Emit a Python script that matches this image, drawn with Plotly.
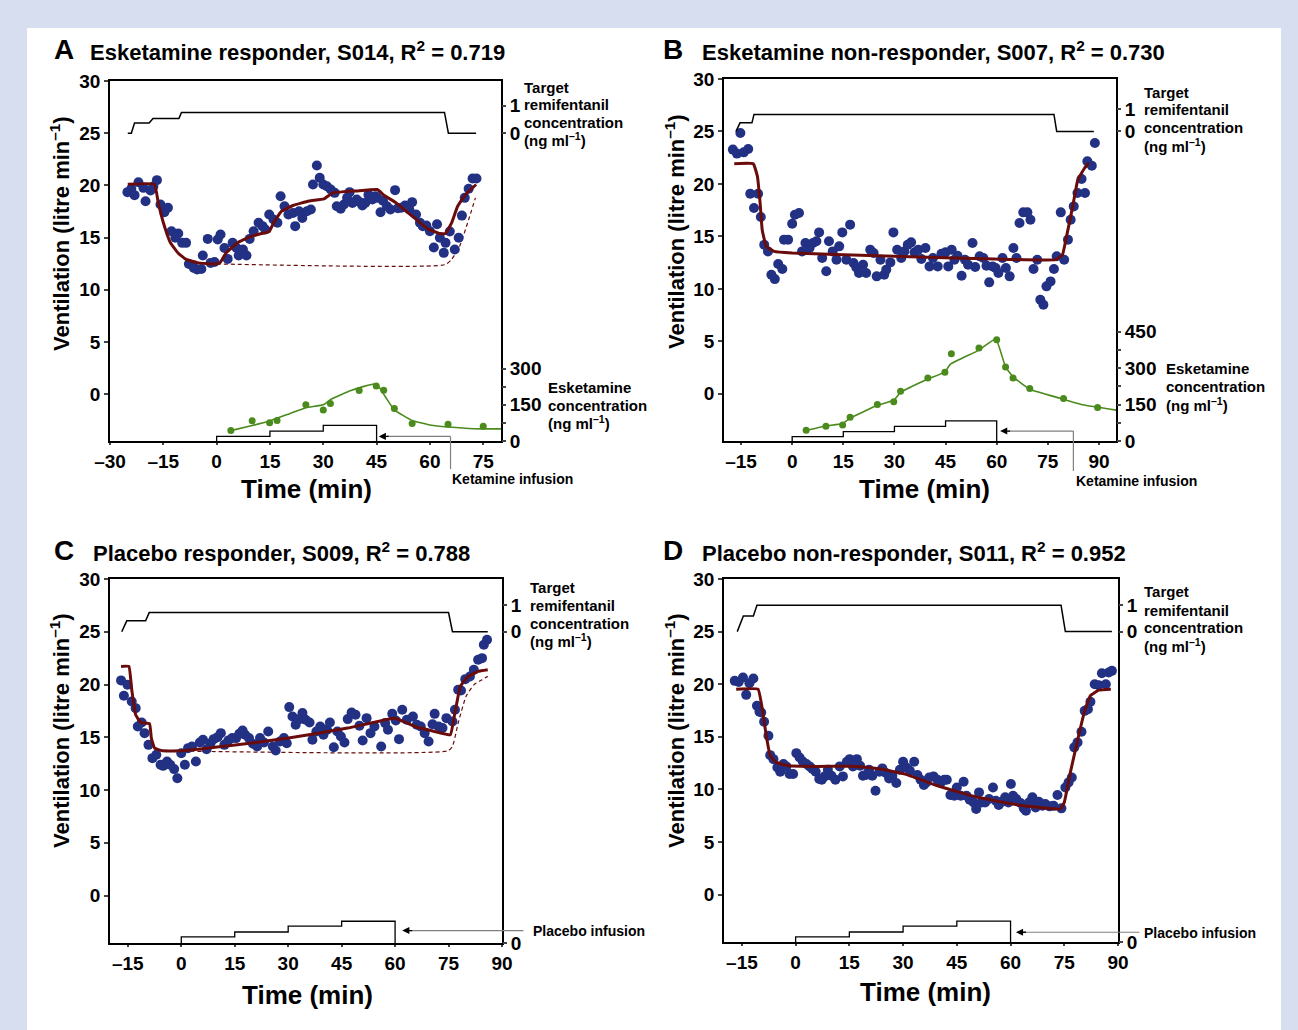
import plotly.graph_objects as go

W, H = 1298, 1030
FONT = "Liberation Sans, Arial, sans-serif"
NAVY = "#233184"
MAROON = "#6a0c0c"
GREEN = "#4b8a1c"
GREY = "#808080"

# ---------------- Panel A : Esketamine responder, S014 ----------------
a_vent = [(-25.1,19.35),(-24.0,19.67),(-23.1,19.06),(-22.0,20.3),(-20.6,19.76),(-20.0,18.48),(-18.6,19.5),(-17.8,19.9),
          (-16.8,20.5),(-15.8,18.16),(-14.7,17.43),(-13.7,17.85),(-12.7,15.6),(-11.6,14.97),(-10.8,15.38),(-9.7,14.49),
          (-8.6,14.49),(-7.8,12.47),(-6.4,12.09),(-5.5,11.93),(-4.3,11.99),(-3.9,13.27),(-2.5,14.87),(-1.7,12.57),
          (-0.6,12.66),(0.3,14.81),(1.1,15.29),(2.2,14.0),(3.1,12.95),(4.5,14.49),(5.6,14.0),(6.2,13.27),(7.4,13.85),
          (8.4,13.27),(9.3,14.87),(10.4,15.6),(11.8,16.41),(12.9,16.09),(13.7,15.77),(14.8,17.2),(16.0,16.73),(17.1,16.41),
          (18.0,18.96),(19.1,18.0),(20.2,17.2),(21.5,17.36),(22.1,16.09),(23.2,17.52),(24.1,16.88),(25.4,17.52),(26.5,17.68),
          (27.1,20.08),(28.2,21.9),(29.0,20.72),(30.0,20.08),(31.0,19.92),(32.1,19.6),(33.2,19.28),(33.8,18.0),(34.9,17.75),
          (35.8,18.16),(36.7,18.8),(37.4,19.35),(38.2,18.32),(39.4,18.64),(40.3,18.39),(41.0,18.07),(41.8,18.32),(42.7,19.09),
          (43.8,18.64),(44.7,18.96),(45.2,18.8),(46.1,17.43),(46.8,18.52),(47.9,18.0),(48.9,17.68),(50.2,19.54),(51.0,17.81),
          (52.0,17.85),(53.0,18.07),(54.2,17.68),(55.0,18.39),(56.1,17.2),(57.2,16.41),(58.0,16.09),(59.0,16.15),(60.0,15.6),
          (61.1,14.04),(62.0,16.28),(62.8,14.97),(63.9,13.53),(64.4,14.49),(65.6,15.57),(67.0,13.85),(68.1,14.97),(69.0,17.1),
          (69.8,18.8),(70.9,19.67),(72.0,20.66),(73.1,20.66)]
a_fit = [(-25,20.1),(-17.5,20.1),(-16.4,18.3),(-14.7,16.1),(-13.0,14.5),(-10.8,13.5),(-8.6,12.9),(-5.2,12.57),(-0.8,12.47),
         (0.9,12.57),(2.6,13.5),(5.9,14.5),(9.3,15.06),(12.6,15.38),(14.8,15.57),(16.0,16.4),(18.2,17.5),(21.5,18.07),
         (26.0,18.5),(30.2,18.7),(32.7,19.28),(39.4,19.47),(45.2,19.6),(47.2,19.03),(50.5,18.32),(55.0,17.05),(59.4,15.83),
         (62.8,15.38),(64.4,15.38),(66.1,16.4),(67.8,18.0),(70.0,19.1),(73.0,20.08)]
a_base = [(0.0,12.47),(64.3,12.4),(66.1,12.9),(68.4,14.2),(70.6,16.4),(72.8,18.8)]
a_remi_t = [-25.0,-24.0,-23.1,-19.0,-17.9,-10.6,-9.9,64.1,65.2,73.0]
a_remi_c = [0,0,0.37,0.37,0.54,0.54,0.76,0.76,0,0]
a_ket = [(4.0,43),(10.0,84),(14.9,76),(17.0,85),(25.1,150),(30.0,128),(32.0,155),(40.1,209),(44.9,228),(47.0,210),
         (50.0,135),(55.0,72),(65.1,69),(75.0,61)]
a_ket_fit = [(4,43),(9.7,63),(15.1,84),(20.5,113),(25.1,138),(30,150),(32,171),(37.8,209),(44.9,237),(47.5,182),
             (50,129),(55,85),(60.4,65),(65.1,58),(72.3,51),(80,50)]
a_inf_t = [0,0,15,15,30,30,45,45]
a_inf_r = [0,19,19,41,41,65,65,0]

# ---------------- Panel B : Esketamine non-responder, S007 ----------------
b_vent = [(-17.4,23.27),(-16.2,22.89),(-15.2,24.86),(-14.2,23.01),(-12.9,23.33),(-12.3,19.07),(-11.2,17.71),(-10.0,19.07),
          (-9.2,16.85),(-8.2,14.21),(-7.1,13.57),(-6.1,11.35),(-5.1,10.93),(-4.1,12.37),(-2.9,11.89),(-2.4,14.69),(-1.2,14.69),
          (0.0,16.21),(0.8,17.07),(2.0,17.23),(2.9,13.57),(3.9,14.37),(5.1,13.89),(6.1,14.37),(7.1,14.53),(7.9,15.38),
          (8.8,12.94),(10.0,11.67),(10.8,14.53),(11.9,13.57),(13.0,12.78),(13.8,14.05),(14.7,15.38),(15.9,12.78),(17.0,16.12),
          (18.0,12.46),(18.8,12.05),(19.6,11.51),(20.8,12.3),(21.7,11.51),(22.9,13.73),(23.9,13.41),(24.8,11.19),(25.9,12.78),
          (27.0,11.35),(27.6,11.83),(28.8,12.52),(29.7,15.38),(30.8,13.73),(32.0,12.94),(32.9,13.57),(33.9,14.21),(34.9,14.43),
          (35.9,13.48),(37.0,13.73),(37.9,12.84),(39.1,13.89),(40.3,12.14),(41.3,12.94),(42.7,12.14),(43.8,13.35),(45.0,13.48),
          (45.8,12.14),(46.8,13.73),(47.6,12.78),(48.5,13.16),(49.7,11.25),(50.7,12.78),(51.6,12.3),(52.9,14.37),(53.7,12.08),
          (55.0,13.1),(56.1,12.94),(57.0,12.21),(57.8,10.62),(58.8,12.14),(59.7,11.98),(60.5,11.51),(61.7,12.94),(62.7,11.98),
          (63.8,11.19),(64.9,13.89),(65.8,12.94),(66.7,16.27),(67.8,17.29),(69.0,17.29),(69.9,16.59),(70.8,11.89),(71.9,12.78),
          (72.8,8.96),(73.7,8.49),(74.6,10.24),(75.8,10.71),(76.8,11.89),(77.6,13.1),(78.8,17.29),(79.8,12.78),(80.9,14.69),
          (81.7,16.59),(82.6,17.86),(83.7,19.13),(84.9,20.47),(85.9,19.13),(86.6,22.15),(87.9,21.74),(88.8,23.9)]
b_fit = [(-17.0,21.93),(-11.4,21.93),(-10.2,20.72),(-9.4,18.18),(-8.8,15.64),(-7.6,14.05),(-5.3,13.57),(0.0,13.41),
         (30.0,13.1),(59.4,12.84),(77.3,12.78),(79.3,13.25),(80.5,15.0),(82.3,17.86),(83.8,20.4),(85.8,21.52),(87.0,22.0)]
b_remi_t = [-16.5,-15.3,-11.8,-11.2,76.8,77.6,88.5]
b_remi_c = [0,0.39,0.39,0.77,0.77,0,0]
b_ket = [(4.1,44),(9.9,60.5),(14.8,66),(17.0,98),(25.0,150),(29.8,162),(31.8,205),(39.8,259),(44.8,283),(46.7,359),
         (54.8,383),(60.0,417),(62.6,305),(64.8,259),(69.7,216),(79.6,175),(89.6,138)]
b_ket_fit = [(4.1,44),(9.9,62),(14.8,72),(17.0,94),(25.0,147),(29.8,168),(31.8,200),(39.8,255),(44.8,285),(46.5,317),
             (54.8,374),(59.7,420),(62.6,305),(64.8,264),(69.7,213),(78.6,176),(85.3,149),(95.0,127)]
b_inf_t = [0,0,15,15,30,30,45,45,60,60]
b_inf_r = [0,18,18,38.5,38.5,60.5,60.5,82.6,82.6,0]

# ---------------- Panel C : Placebo responder, S009 ----------------
c_vent = [(-16.9,20.39),(-16.1,18.93),(-15.1,19.97),(-13.9,18.39),(-12.8,17.76),(-12.2,16.02),(-11.1,16.4),(-10.3,15.39),
          (-9.2,14.28),(-8.1,13.02),(-7.0,13.34),(-5.8,12.39),(-5.1,12.29),(-4.0,12.7),(-3.1,12.39),(-2.0,11.98),(-1.1,11.12),
          (0.0,13.49),(1.0,12.39),(1.9,13.97),(3.0,14.13),(4.1,12.7),(5.2,14.51),(6.1,14.76),(7.1,13.87),(8.2,14.44),(9.1,14.82),
          (10.2,15.01),(11.1,15.39),(12.1,14.28),(13.2,14.69),(14.3,14.92),(15.4,14.92),(16.3,15.33),(17.2,15.64),(17.9,15.23),
          (19.0,14.92),(20.1,14.38),(21.3,14.13),(22.1,14.92),(23.2,14.51),(24.4,15.55),(25.7,14.13),(26.5,13.75),(27.7,14.6),
          (28.8,14.92),(29.6,14.44),(30.3,17.86),(31.2,16.97),(32.1,16.18),(33.2,16.72),(34.0,17.29),(34.9,16.66),(36.0,16.4),
          (36.8,14.76),(37.9,15.55),(39.0,16.02),(39.9,15.23),(40.9,15.71),(41.7,16.4),(42.8,14.06),(43.8,15.55),(44.8,15.07),
          (45.8,14.51),(46.7,16.72),(47.8,17.35),(48.9,17.13),(50.0,16.09),(50.9,14.69),(52.0,16.81),(53.1,15.39),(54.2,16.02),
          (56.1,14.13),(57.2,16.34),(58.0,15.71),(59.2,17.22),(60.2,16.59),(61.1,14.82),(62.0,17.6),(63.3,16.66),(65.0,16.97),
          (66.1,16.18),(67.2,16.02),(68.3,15.39),(69.4,14.6),(70.5,16.24),(71.1,17.22),(72.2,16.02),(73.3,15.87),(74.4,16.81),
          (76.1,16.5),(76.8,17.6),(77.7,19.5),(78.5,19.44),(79.7,20.51),(81.0,20.76),(82.1,21.4),(83.3,22.34),(84.4,22.5),
          (84.9,23.77),(85.8,24.24)]
c_fit = [(-16.9,21.71),(-14.7,21.71),(-13.9,19.5),(-12.8,17.13),(-11.4,16.4),(-8.9,16.28),(-8.4,14.92),(-7.5,13.97),
         (-5.3,13.72),(0.2,13.72),(15.7,14.28),(30.1,14.92),(46.7,15.87),(60.0,16.81),(65.5,16.02),(71.1,15.55),(75.5,15.23),
         (76.6,16.97),(78.3,19.82),(80.5,20.76),(83.3,21.24),(86.0,21.4)]
c_base = [(-5.3,13.72),(74.9,13.72),(76.1,14.13),(77.7,16.34),(79.9,18.87),(82.1,19.97),(84.4,20.45),(86.0,20.77)]
c_remi_t = [-16.7,-15.3,-10.0,-9.0,75.0,76.1,86.0]
c_remi_c = [0,0.41,0.41,0.72,0.72,0,0]
c_inf_t = [0,0,15,15,30,30,45,45,60,60]
c_inf_r = [0,25,25,45,45,69,69,89,89,0]

# ---------------- Panel D : Placebo non-responder, S011 ----------------
d_vent = [(-17.0,20.32),(-15.9,20.22),(-14.7,20.64),(-13.8,18.99),(-12.9,20.1),(-11.8,20.54),(-10.8,17.95),(-10.1,17.38),
          (-9.6,17.31),(-8.8,16.43),(-7.6,15.1),(-7.1,13.26),(-6.2,12.88),(-5.1,12.09),(-4.3,11.68),(-3.4,12.41),(-2.6,12.19),
          (-1.7,11.46),(-0.7,11.46),(0.2,13.45),(1.1,13.04),(2.0,12.66),(3.0,12.41),(3.9,12.19),(4.7,11.94),(5.6,11.68),
          (6.6,10.99),(7.3,10.92),(8.1,11.24),(9.0,11.87),(10.0,11.3),(11.1,10.92),(12.3,12.19),(13.2,11.24),(14.3,12.63),
          (15.1,12.88),(16.0,12.19),(17.1,12.88),(18.0,12.25),(18.8,11.3),(19.6,11.37),(20.5,11.87),(21.4,11.3),(22.3,9.88),
          (23.4,11.68),(24.2,12.0),(25.2,11.56),(26.1,11.05),(27.0,11.3),(28.1,10.61),(29.1,11.87),(30.0,12.63),(30.9,12.09),
          (31.9,11.78),(33.1,12.63),(34.0,11.37),(34.9,10.92),(35.8,10.42),(36.5,10.67),(37.3,11.14),(38.5,11.24),(39.6,10.92),
          (40.7,10.73),(41.5,10.92),(42.2,10.92),(43.2,9.47),(44.3,9.4),(45.0,10.19),(46.1,9.4),(46.9,10.73),(47.7,9.4),
          (48.6,9.02),(49.7,8.77),(50.4,8.14),(51.2,9.72),(52.0,8.77),(52.9,8.77),(54.0,9.09),(55.1,10.19),(55.9,8.93),
          (56.7,8.52),(57.6,8.83),(58.5,9.25),(59.4,8.77),(60.1,10.51),(60.7,9.4),(61.6,9.09),(62.8,8.71),(63.7,8.2),(64.3,7.98),
          (65.2,8.77),(66.1,9.25),(67.0,8.29),(67.9,8.83),(68.9,8.45),(69.7,8.61),(70.9,8.39),(72.0,8.45),(73.1,9.47),(74.2,8.2),
          (75.3,10.19),(76.2,10.67),(77.1,11.14),(77.8,14.0),(78.7,14.47),(79.8,15.48),(80.7,17.47),(81.6,17.63),(82.3,18.33),
          (83.5,20.0),(84.6,19.91),(85.5,21.05),(86.6,20.0),(87.4,21.11),(88.3,21.27)]
d_fit = [(-16.6,19.53),(-10.5,19.53),(-9.3,17.63),(-8.2,15.1),(-7.1,13.2),(-5.4,12.57),(-2.0,12.25),(5.8,12.19),(17.1,12.19),
         (23.8,11.94),(30.6,11.46),(39.6,10.35),(50.8,9.25),(62.1,8.52),(73.9,8.14),(75.0,8.77),(76.7,11.62),(79.0,15.1),
         (80.7,17.47),(82.3,18.9),(84.6,19.43),(88.0,19.53)]
d_remi_t = [-16.3,-14.6,-11.8,-10.8,74.1,75.3,88.3]
d_remi_c = [0,0.59,0.59,1.0,1.0,0,0]
d_inf_t = [0,0,15,15,30,30,45,45,60,60]
d_inf_r = [0,21,21,41,41,65,65,86,86,0]

# tick labels
x_ticks_a = [-30,-15,0,15,30,45,60,75]
x_ticks_bcd = [-15,0,15,30,45,60,75,90]
y_ticks = [0,5,10,15,20,25,30]
remi_ticks = [0,1]
ket_ticks_a = [0,75,150,225,300]
ket_ticks_b = [0,75,150,225,300,375,450]

titles = ["Esketamine responder, S014, R<sup>2</sup> = 0.719",
          "Esketamine non-responder, S007, R<sup>2</sup> = 0.730",
          "Placebo responder, S009, R<sup>2</sup> = 0.788",
          "Placebo non-responder, S011, R<sup>2</sup> = 0.952"]
letters = ["A", "B", "C", "D"]

# ---------------- geometry (pixels) ----------------
Y_RANGE = [-4.5, 30]
KET_TOP = 1490.0
geo = [
    dict(x0=110, x1=501, y0=81, y1=441, xr=[-30, 80], k=2.62),
    dict(x0=724, x1=1116, y0=79, y1=441, xr=[-20, 95], k=2.11),
    dict(x0=110, x1=502, y0=579, y1=943, xr=[-20, 90], k=2.52),
    dict(x0=724, x1=1118, y0=579, y1=942, xr=[-20, 90], k=2.5),
]

def fx(px):
    return px / W

def fy(py):
    return 1 - py / H

def data_px_x(p, t):
    g = geo[p]
    return g["x0"] + (t - g["xr"][0]) / (g["xr"][1] - g["xr"][0]) * (g["x1"] - g["x0"])

def data_px_yk(p, c):
    g = geo[p]
    return g["y1"] - c / KET_TOP * (g["y1"] - g["y0"])

def unzip(pairs):
    return [p[0] for p in pairs], [p[1] for p in pairs]

fig = go.Figure()
layout = dict(width=W, height=H, margin=dict(l=0, r=0, t=0, b=0), showlegend=False,
              paper_bgcolor="#d6deef", plot_bgcolor="rgba(0,0,0,0)", template="none",
              font=dict(family=FONT, color="black"))
annotations = []
shapes = [dict(type="rect", xref="paper", yref="paper", x0=fx(27), x1=fx(1281), y0=0, y1=fy(28),
               fillcolor="white", line=dict(width=0), layer="below")]

tickfont = dict(family=FONT, size=19, color="black", weight="bold")

def en(v):
    return str(v).replace("-", "\u2013")

panels = [
    dict(vent=a_vent, fit=a_fit, base=a_base, remi=(a_remi_t, a_remi_c), ket=a_ket, ketfit=a_ket_fit,
         inf=(a_inf_t, a_inf_r), xt=x_ticks_a, kt=ket_ticks_a),
    dict(vent=b_vent, fit=b_fit, base=None, remi=(b_remi_t, b_remi_c), ket=b_ket, ketfit=b_ket_fit,
         inf=(b_inf_t, b_inf_r), xt=x_ticks_bcd, kt=ket_ticks_b),
    dict(vent=c_vent, fit=c_fit, base=c_base, remi=(c_remi_t, c_remi_c), ket=None, ketfit=None,
         inf=(c_inf_t, c_inf_r), xt=x_ticks_bcd, kt=[0]),
    dict(vent=d_vent, fit=d_fit, base=None, remi=(d_remi_t, d_remi_c), ket=None, ketfit=None,
         inf=(d_inf_t, d_inf_r), xt=x_ticks_bcd, kt=[0]),
]

for p, pan in enumerate(panels):
    g = geo[p]
    xi = p + 1
    ym, yr, yk = 3 * p + 1, 3 * p + 2, 3 * p + 3
    xn = "x" if xi == 1 else f"x{xi}"
    ymn = "y" if ym == 1 else f"y{ym}"
    yrn, ykn = f"y{yr}", f"y{yk}"
    xdom = [fx(g["x0"]), fx(g["x1"])]
    ydom = [fy(g["y1"]), fy(g["y0"])]
    k = g["k"]
    layout[f"xaxis{'' if xi == 1 else xi}"] = dict(
        domain=xdom, range=g["xr"], anchor=ymn, tickvals=pan["xt"], ticktext=[en(v) for v in pan["xt"]],
        ticks="outside", ticklen=2, tickwidth=1.5, showline=True, linewidth=1.5, linecolor="black",
        mirror=True, showgrid=False, zeroline=False, tickfont=tickfont)
    layout[f"yaxis{'' if ym == 1 else ym}"] = dict(
        domain=ydom, range=Y_RANGE, anchor=xn, tickvals=y_ticks, ticktext=[str(v) for v in y_ticks],
        ticks="outside", ticklen=4, tickwidth=1.5, showline=True, linewidth=1.5, linecolor="black",
        mirror=True, showgrid=False, zeroline=False, tickfont=tickfont)
    layout[f"yaxis{yr}"] = dict(
        overlaying=ymn, side="right", anchor=xn,
        range=[(Y_RANGE[0] - 25) / k, (Y_RANGE[1] - 25) / k],
        tickvals=remi_ticks, ticktext=[str(v) for v in remi_ticks], ticks="outside", ticklen=4, tickwidth=1.5,
        showline=False, showgrid=False, zeroline=False, tickfont=tickfont)
    layout[f"yaxis{yk}"] = dict(
        overlaying=ymn, side="right", anchor=xn, range=[0, KET_TOP],
        tickvals=pan["kt"], ticktext=[str(v) if v % 150 == 0 else "" for v in pan["kt"]],
        ticks="outside", ticklen=4, tickwidth=1.5,
        showline=False, showgrid=False, zeroline=False, tickfont=tickfont)

    # remifentanil target step
    fig.add_trace(go.Scatter(x=pan["remi"][0], y=pan["remi"][1], mode="lines", xaxis=xn, yaxis=yrn,
                             line=dict(color="black", width=1.5), hoverinfo="skip"))
    # infusion steps
    fig.add_trace(go.Scatter(x=pan["inf"][0], y=pan["inf"][1], mode="lines", xaxis=xn, yaxis=ykn,
                             line=dict(color="black", width=1.3), hoverinfo="skip"))
    # ketamine concentration
    if pan["ketfit"] is not None:
        kt, kc = unzip(pan["ketfit"])
        fig.add_trace(go.Scatter(x=kt, y=kc, mode="lines", xaxis=xn, yaxis=ykn,
                                 line=dict(color=GREEN, width=1.6, shape="spline", smoothing=0.4)))
        kt, kc = unzip(pan["ket"])
        fig.add_trace(go.Scatter(x=kt, y=kc, mode="markers", xaxis=xn, yaxis=ykn,
                                 marker=dict(color=GREEN, size=7)))
    # baseline (dashed)
    if pan["base"] is not None:
        bt, bv = unzip(pan["base"])
        fig.add_trace(go.Scatter(x=bt, y=bv, mode="lines", xaxis=xn, yaxis=ymn,
                                 line=dict(color=MAROON, width=1.2, dash="4px,3px", shape="spline", smoothing=0.5)))
    # ventilation
    vt, vv = unzip(pan["vent"])
    fig.add_trace(go.Scatter(x=vt, y=vv, mode="markers", xaxis=xn, yaxis=ymn,
                             marker=dict(color=NAVY, size=10, line=dict(width=0))))
    ft, fv = unzip(pan["fit"])
    fig.add_trace(go.Scatter(x=ft, y=fv, mode="lines", xaxis=xn, yaxis=ymn,
                             line=dict(color=MAROON, width=3, shape="spline", smoothing=0.3)))

# ---------------- arrows for infusions ----------------
arrows = [  # panel, tail time, head time, level, vertical drop to px (None = none)
    (0, 65.8, 45.6, 19, 469),
    (1, 82.5, 61.0, 41, 471),
    (2, 96.0, 62.0, 51, None),
    (3, 96.0, 61.5, 40, None),
]
for p, tt, ht, lev, drop in arrows:
    xt_ = data_px_x(p, tt)
    xh_ = data_px_x(p, ht)
    yl_ = data_px_yk(p, lev)
    shapes.append(dict(type="line", xref="paper", yref="paper", x0=fx(xt_), x1=fx(xh_ + 8), y0=fy(yl_), y1=fy(yl_),
                       line=dict(color=GREY, width=1.2)))
    if drop is not None:
        shapes.append(dict(type="line", xref="paper", yref="paper", x0=fx(xt_), x1=fx(xt_), y0=fy(yl_), y1=fy(drop),
                           line=dict(color=GREY, width=1.2)))
    annotations.append(dict(xref="paper", yref="paper", x=fx(xh_), y=fy(yl_), ax=12, ay=0, text=" ",
                            showarrow=True, arrowhead=2, arrowsize=1.1, arrowwidth=1.3, arrowcolor="black",
                            standoff=0, font=dict(size=2)))

def txt(x, y, s, size, xanchor="left", angle=0):
    annotations.append(dict(xref="paper", yref="paper", x=fx(x), y=fy(y), text=s, showarrow=False,
                            xanchor=xanchor, yanchor="middle", textangle=angle,
                            font=dict(family=FONT, size=size, color="black", weight="bold")))

# panel letters and titles
letter_pos = [(64, 49), (673, 49), (64, 550), (673, 550)]
title_pos = [(88, 51), (700, 51), (91, 552), (700, 552)]
for i in range(4):
    txt(letter_pos[i][0], letter_pos[i][1], letters[i], 28, xanchor="center")
    txt(title_pos[i][0], title_pos[i][1], titles[i], 22)

# axis titles
for (x, y) in [(60, 234), (675, 232), (60, 731), (675, 731)]:
    txt(x, y, "Ventilation (litre min<sup>\u20131</sup>)", 22, xanchor="center", angle=-90)
for (x, y) in [(306, 489), (924, 489), (307, 995), (925, 992)]:
    txt(x, y, "Time (min)", 26, xanchor="center")

# right-side labels
remi_lines = ["Target", "remifentanil", "concentration", "(ng ml<sup>\u20131</sup>)"]
for (x, ys) in [(522, [88, 105, 123, 140]), (1142, [93, 110, 128, 146]),
                (528, [587, 605, 623, 640]), (1142, [592, 610, 627, 645])]:
    for s, y in zip(remi_lines, ys):
        txt(x, y, s, 15)
ket_lines = ["Esketamine", "concentration", "(ng ml<sup>\u20131</sup>)"]
for (x, ys) in [(546, [388, 405, 422]), (1164, [368, 386, 404])]:
    for s, y in zip(ket_lines, ys):
        txt(x, y, s, 15)
txt(512, 479, "Ketamine infusion", 14, xanchor="center")
txt(1136, 481, "Ketamine infusion", 14, xanchor="center")
txt(531, 931, "Placebo infusion", 14)
txt(1142, 933, "Placebo infusion", 14)

layout["annotations"] = annotations
layout["shapes"] = shapes
fig.update_layout(**layout)

fig.write_html("out.html", config={"displayModeBar": False},
               post_script="document.body.style.margin='0';document.body.style.overflow='hidden';")
